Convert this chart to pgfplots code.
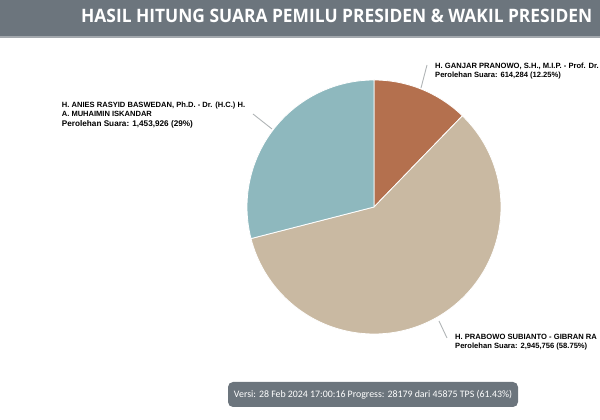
\documentclass[border=0pt]{standalone}
\usepackage{fontspec}
\setmainfont{Liberation Sans}
\newfontfamily\headfont{Open Sans}
\newfontfamily\notefont{Carlito}
\usepackage{graphicx}
\usepackage{pgfplots}
\pgfplotsset{compat=1.18}

\definecolor{hdr}{HTML}{6C757D}
\definecolor{hdrline}{HTML}{A3A8AD}
\definecolor{ganjar}{HTML}{B4704E}
\definecolor{prabowo}{HTML}{C9B9A2}
\definecolor{anies}{HTML}{8EB8BE}
\definecolor{leader}{HTML}{B0B4B6}

% vote shares (%), clockwise from 12 o'clock
\def\pGanjar{12.25}
\def\pPrabowo{58.75}
\def\pAnies{29}

\pgfmathsetmacro\aA{90}
\pgfmathsetmacro\aB{\aA-3.6*\pGanjar}
\pgfmathsetmacro\aC{\aB-3.6*\pPrabowo}
\pgfmathsetmacro\aD{\aC-3.6*\pAnies}

\begin{document}
\begin{tikzpicture}
\useasboundingbox (0,0) rectangle (600pt,420pt);
\clip (0,0) rectangle (600pt,420pt);
\begin{axis}[
    at={(0,0)}, anchor=south west,
    scale only axis, width=600pt, height=420pt,
    xmin=0, xmax=600, ymin=0, ymax=420,
    hide axis, clip=false
]
% header band
\fill[hdr] (axis cs:0,384) rectangle (axis cs:600,420);
\fill[hdrline] (axis cs:0,382) rectangle (axis cs:600,384);
\node[anchor=base west, inner sep=0, text=white] at (axis cs:81,397)
    {\resizebox{511pt}{13.4pt}{\headfont\bfseries HASIL HITUNG SUARA PEMILU PRESIDEN \& WAKIL PRESIDEN}};

% pie
\def\cx{374}\def\cy{213}\def\R{127pt}
\fill[ganjar, draw=white, line width=0.8pt] (axis cs:\cx,\cy) -- ++(\aA:\R)
    arc[start angle=\aA, end angle=\aB, radius=\R] -- cycle;
\fill[prabowo, draw=white, line width=0.8pt] (axis cs:\cx,\cy) -- ++(\aB:\R)
    arc[start angle=\aB, end angle=\aC, radius=\R] -- cycle;
\fill[anies, draw=white, line width=0.8pt] (axis cs:\cx,\cy) -- ++(\aC:\R)
    arc[start angle=\aC, end angle=\aD, radius=\R] -- cycle;

% leader lines
\draw[leader, line width=0.9pt] (axis cs:253,306) -- (axis cs:272,291);
\draw[leader, line width=0.9pt] (axis cs:427,355) -- (axis cs:421,332);
\draw[leader, line width=0.9pt] (axis cs:439,99) -- (axis cs:447,82);

% labels
\begin{scope}[every node/.style={anchor=base west, inner sep=0, font=\fontsize{7.6}{9}\selectfont, text=black}]
\node at (axis cs:61.7,312.3) {\resizebox{183.3pt}{!}{\bfseries H. ANIES RASYID BASWEDAN, Ph.D. - Dr. (H.C.) H.}};
\node at (axis cs:61.7,303) {\resizebox{90pt}{!}{\bfseries A. MUHAIMIN ISKANDAR}};
\node at (axis cs:61.7,293.7) {\resizebox{131pt}{!}{\bfseries Perolehan Suara: 1,453,926 (29\%)}};

\node at (axis cs:435,351) {\bfseries H. GANJAR PRANOWO, S.H., M.I.P. - Prof. Dr.};
\node at (axis cs:435,342) {\bfseries Perolehan Suara: 614,284 (12.25\%)};

\node at (axis cs:455,80.5) {\bfseries H. PRABOWO SUBIANTO - GIBRAN RA};
\node at (axis cs:455,71.5) {\bfseries Perolehan Suara: 2,945,756 (58.75\%)};
\end{scope}

% version box
\fill[hdr, rounded corners=5pt] (axis cs:228,13) rectangle (axis cs:518,38);
\node[anchor=base, inner sep=0, text=white] at (axis cs:373,22)
    {\resizebox{278pt}{!}{\notefont\fontsize{9.5}{11}\selectfont Versi: 28 Feb 2024 17:00:16 Progress: 28179 dari 45875 TPS (61.43\%)}};
\end{axis}
\end{tikzpicture}
\end{document}
